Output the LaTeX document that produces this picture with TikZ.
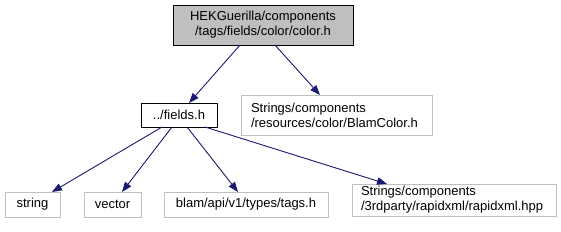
\documentclass[tikz,border=0pt]{standalone}
\usepackage{fontspec}
\setmainfont{Liberation Sans}
\usetikzlibrary{arrows.meta}
\definecolor{edgeblue}{HTML}{191970}
\definecolor{boxgray}{HTML}{BFBFBF}
\begin{document}
\begin{tikzpicture}[x=1pt,y=-1pt,
  every node/.style={font=\fontsize{13}{15}\selectfont, inner sep=0pt, outer sep=0pt},
  rootbox/.style={draw=black, fill=boxgray, line width=0.9pt, align=center},
  incbox/.style={draw=black, fill=white, line width=0.9pt, align=center},
  extbox/.style={draw=boxgray, fill=white, line width=0.9pt},
  arr/.style={draw=edgeblue, line width=0.9pt, -{Triangle[length=10pt,width=7.5pt]}}]
\useasboundingbox (0,0) rectangle (561,231);
\node[rootbox, minimum width=180, minimum height=40] (root) at (263,25)
  {HEKGuerilla/components\\/tags/fields/color/color.h};
\node[incbox, minimum width=76, minimum height=24] (fields) at (179,115) {../fields.h};
\node[extbox, minimum width=191, minimum height=40, text width=171, align=left] (blam) at (336.5,115)
  {Strings/components\\/resources/color/BlamColor.h};
\node[extbox, minimum width=55, minimum height=25, align=center] (string) at (32.5,204.5) {string};
\node[extbox, minimum width=57, minimum height=25, align=center] (vector) at (112.5,204.5) {vector};
\node[extbox, minimum width=164, minimum height=25, align=center] (tags) at (246,204.5) {blam/api/v1/types/tags.h};
\node[extbox, minimum width=204, minimum height=32, text width=186, align=left] (rapid) at (454,200)
  {Strings/components\\/3rdparty/rapidxml/rapidxml.hpp};
\draw[arr] ([xshift=-23]root.south) -- ([xshift=10]fields.north);
\draw[arr] ([xshift=12]root.south) -- ([xshift=-16.5]blam.north);
\draw[arr] ([xshift=-17]fields.south) -- ([xshift=19.5]string.north);
\draw[arr] ([xshift=-7]fields.south) -- ([xshift=9.5]vector.north);
\draw[arr] ([xshift=8]fields.south) -- ([xshift=-8]tags.north);
\draw[arr] ([xshift=26]fields.south) -- ([xshift=-67]rapid.north);
\end{tikzpicture}
\end{document}
